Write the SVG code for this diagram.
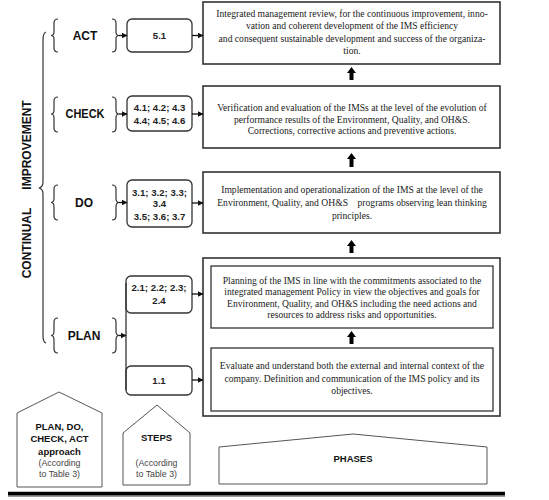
<svg xmlns="http://www.w3.org/2000/svg" width="549" height="500" viewBox="0 0 549 500">
<style>
.lbl{font-family:"Liberation Sans",Arial,sans-serif;font-weight:bold;font-size:12px;fill:#111;text-anchor:middle}
.step{font-family:"Liberation Sans",Arial,sans-serif;font-weight:bold;font-size:9.6px;fill:#222;text-anchor:middle}
.desc{font-family:"Liberation Serif","Times New Roman",serif;font-size:9.6px;fill:#1a1a1a;text-anchor:middle}
.bt{font-family:"Liberation Sans",Arial,sans-serif;font-weight:bold;font-size:9.5px;fill:#111;text-anchor:middle}
.bn{font-family:"Liberation Sans",Arial,sans-serif;font-size:8.8px;fill:#444;text-anchor:middle}
.brace{fill:none;stroke:#333;stroke-width:1.2}
.sbox{fill:#fff;stroke:#333;stroke-width:1.3}
.bbox{fill:#fff;stroke:#333;stroke-width:1.6}
.conn{stroke:#111;stroke-width:1.3;fill:none;marker-end:url(#ah)}
.blk{fill:#000}
.pent{fill:#fff;stroke:#555;stroke-width:1}
</style>
<defs>
<marker id="ah" markerWidth="6" markerHeight="6" refX="5.5" refY="3" orient="auto" markerUnits="userSpaceOnUse">
<path d="M0,0 L6,3 L0,6 Z" fill="#111"/>
</marker>
</defs>

<g id="continual-improvement">
<path class="brace" d="M46,32 Q43,33 43,40 L43,182 Q43,187 39,188 Q43,189 43,194 L43,336 Q43,342 46,343"/>
<text class="lbl" font-size="11.5" transform="translate(31,145) rotate(-90)">IMPROVEMENT</text>
<text class="lbl" font-size="11.5" transform="translate(31,243) rotate(-90)">CONTINUAL</text>
</g>

<g id="phase-act">
<path class="brace" d="M58,19 Q54,19 54,23 L54,32 Q54,35.5 51,35.5 Q54,35.5 54,39 L54,48 Q54,52 58,52"/>
<text class="lbl" x="85" y="40">ACT</text>
<path class="brace" d="M112,19 Q116,19 116,23 L116,32 Q116,35.5 119,35.5 Q116,35.5 116,39 L116,48 Q116,52 112,52"/>
</g>
<g id="phase-check">
<path class="brace" d="M58,97 Q54,97 54,101 L54,110 Q54,114 51,114 Q54,114 54,118 L54,128 Q54,132 58,132"/>
<text class="lbl" x="85" y="118" textLength="39" lengthAdjust="spacingAndGlyphs">CHECK</text>
<path class="brace" d="M112,97 Q116,97 116,101 L116,110 Q116,114 119,114 Q116,114 116,118 L116,128 Q116,132 112,132"/>
</g>
<g id="phase-do">
<path class="brace" d="M58,185 Q54,185 54,189 L54,198 Q54,202.5 51,202.5 Q54,202.5 54,207 L54,216 Q54,220 58,220"/>
<text class="lbl" x="84" y="207">DO</text>
<path class="brace" d="M112,185 Q116,185 116,189 L116,198 Q116,202.5 119,202.5 Q116,202.5 116,207 L116,216 Q116,220 112,220"/>
</g>
<g id="phase-plan">
<path class="brace" d="M58,318 Q54,318 54,322 L54,331 Q54,335.5 51,335.5 Q54,335.5 54,340 L54,349 Q54,353 58,353"/>
<text class="lbl" x="84" y="340">PLAN</text>
<path class="brace" d="M112,318 Q116,318 116,322 L116,331 Q116,335.5 119,335.5 Q116,335.5 116,340 L116,349 Q116,353 112,353"/>
</g>

<g id="step-5-1">
<rect class="sbox" x="127" y="19" width="65" height="33" rx="5"/>
<text class="step" x="159.5" y="39">5.1</text>
</g>
<g id="step-4">
<rect class="sbox" x="127" y="96" width="65" height="35" rx="5"/>
<text class="step" x="159.5" y="111">4.1; 4.2; 4.3</text>
<text class="step" x="159.5" y="124">4.4; 4.5; 4.6</text>
</g>
<g id="step-3">
<rect class="sbox" x="127" y="180" width="65" height="47" rx="5"/>
<text class="step" x="159.5" y="196">3.1; 3.2; 3.3;</text>
<text class="step" x="159.5" y="207">3.4</text>
<text class="step" x="159.5" y="220">3.5; 3.6; 3.7</text>
</g>
<g id="step-2">
<rect class="sbox" x="126" y="276" width="66" height="37" rx="5"/>
<text class="step" x="159" y="291">2.1; 2.2; 2.3;</text>
<text class="step" x="159" y="304">2.4</text>
</g>
<g id="step-1-1">
<rect class="sbox" x="126" y="366" width="66" height="29" rx="5"/>
<text class="step" x="159" y="384">1.1</text>
</g>

<g id="box-act">
<rect class="bbox" x="203" y="2" width="297" height="62"/>
<text class="desc" x="352" y="17">Integrated management review, for the continuous improvement, inno-</text>
<text class="desc" x="352" y="29">vation and coherent development of the IMS efficiency</text>
<text class="desc" x="352" y="41.5">and consequent sustainable development and success of the organiza-</text>
<text class="desc" x="352" y="54">tion.</text>
</g>
<g id="box-check">
<rect class="bbox" x="203" y="86" width="297" height="62"/>
<text class="desc" x="352" y="111">Verification and evaluation of the IMSs at the level of the evolution of</text>
<text class="desc" x="352" y="123">performance results of the Environment, Quality, and OH&amp;S.</text>
<text class="desc" x="352" y="134">Corrections, corrective actions and preventive actions.</text>
</g>
<g id="box-do">
<rect class="bbox" x="203" y="172" width="297" height="61"/>
<text class="desc" x="352" y="193">Implementation and operationalization of the IMS at the level of the</text>
<text class="desc" x="352" y="206" xml:space="preserve">Environment, Quality, and OH&amp;S    programs observing lean thinking</text>
<text class="desc" x="352" y="219">principles.</text>
</g>
<g id="box-plan">
<rect class="bbox" x="203" y="258" width="297" height="158"/>
</g>
<g id="box-plan-2">
<rect class="sbox" x="211" y="266" width="282" height="62"/>
<text class="desc" x="352" y="284">Planning of the IMS in line with the commitments associated to the</text>
<text class="desc" x="352" y="295">integrated management Policy in view the objectives and goals for</text>
<text class="desc" x="352" y="306.5">Environment, Quality, and OH&amp;S including the need actions and</text>
<text class="desc" x="352" y="317.5">resources to address risks and opportunities.</text>
</g>
<g id="box-plan-1">
<rect class="sbox" x="211" y="348" width="282" height="63"/>
<text class="desc" x="352" y="369">Evaluate and understand both the external and internal context of the</text>
<text class="desc" x="352" y="382">company. Definition and communication of the IMS policy and its</text>
<text class="desc" x="352" y="394">objectives.</text>
</g>

<g id="connectors">
<line class="conn" x1="119" y1="35.5" x2="127" y2="35.5"/>
<line class="conn" x1="192" y1="35.5" x2="203" y2="35.5"/>
<line class="conn" x1="119" y1="114" x2="127" y2="114"/>
<line class="conn" x1="192" y1="114" x2="203" y2="114"/>
<line class="conn" x1="119" y1="202.5" x2="127" y2="202.5"/>
<line class="conn" x1="192" y1="203" x2="203" y2="203"/>
<line x1="126" y1="283" x2="126" y2="390" stroke="#333" stroke-width="1.3"/>
<line class="conn" x1="119" y1="335.5" x2="126" y2="335.5"/>
<line class="conn" x1="192" y1="294" x2="203" y2="294"/>
<line class="conn" x1="192" y1="380" x2="203" y2="380"/>
<path class="blk" d="M351.5,67 L356,73 L353.5,73 L353.5,80 L349.5,80 L349.5,73 L347,73 Z"/>
<path class="blk" d="M351.5,153 L356,159 L353.5,159 L353.5,167 L349.5,167 L349.5,159 L347,159 Z"/>
<path class="blk" d="M351.5,240 L356,246 L353.5,246 L353.5,253 L349.5,253 L349.5,246 L347,246 Z"/>
<path class="blk" d="M351.5,331 L356,337 L353.5,337 L353.5,344 L349.5,344 L349.5,337 L347,337 Z"/>
</g>

<g id="legend-pdca">
<path class="pent" d="M59,392 L102,413 L102,487 L17,487 L17,413 Z"/>
<text class="bt" x="59.5" y="430">PLAN, DO,</text>
<text class="bt" x="59.5" y="442">CHECK, ACT</text>
<text class="bt" x="59.5" y="455">approach</text>
<text class="bn" x="59.5" y="466">(According</text>
<text class="bn" x="59.5" y="477">to Table 3)</text>
</g>
<g id="legend-steps">
<path class="pent" d="M157,405 L190,433 L190,485 L123,485 L123,433 Z"/>
<text class="bt" x="156.5" y="441">STEPS</text>
<text class="bn" x="156.5" y="466">(According</text>
<text class="bn" x="156.5" y="477">to Table 3)</text>
</g>
<g id="legend-phases">
<path class="pent" d="M353,434 L487,447 L487,484 L219,484 L219,447 Z"/>
<text class="bt" x="353" y="462">PHASES</text>
</g>

<line x1="8" y1="496" x2="505" y2="496" stroke="#999" stroke-width="2"/>
<line x1="8" y1="493.5" x2="505" y2="493.5" stroke="#000" stroke-width="3.5"/>
</svg>
